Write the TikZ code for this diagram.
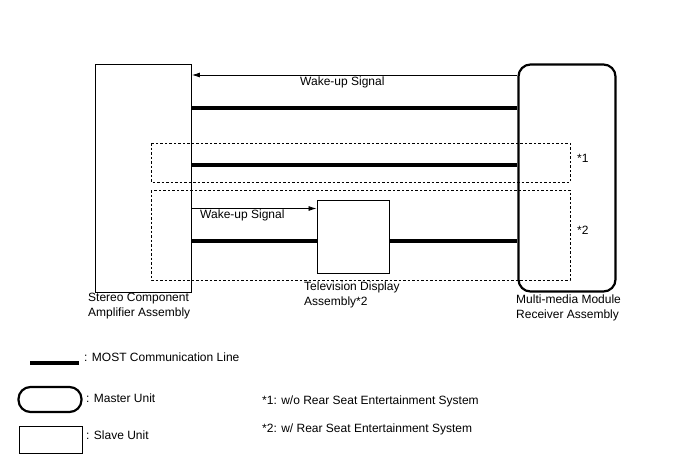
\documentclass[tikz,border=0pt]{standalone}
\usepackage{fontspec}
\setmainfont{Liberation Sans}
\usetikzlibrary{arrows.meta}

\begin{document}
\begin{tikzpicture}[x=1pt,y=-1pt]
\tikzstyle{every node}+=[font=\fontsize{12}{15}\selectfont]
\tikzstyle{slave}=[draw,line width=0.9pt,inner sep=0pt]
\tikzstyle{master}=[draw,line width=2.2pt,rounded corners=12pt,inner sep=0pt]
\tikzstyle{most}=[line width=3.6pt]
\tikzstyle{wake}=[line width=0.8pt,-{Latex[length=8pt,width=5pt]}]
\tikzstyle{grp}=[draw,dashed,line width=0.9pt,dash pattern=on 2.5pt off 2pt]
\tikzstyle{txt}=[anchor=base west,inner sep=0pt]
\tikzstyle{unitname}=[anchor=north west,inner sep=0pt,align=left]
\useasboundingbox (0,0) rectangle (688,463);
% units
\node [slave,minimum width=96pt,minimum height=228pt] (stereo) at (143.5,178) {};
\node [master,minimum width=97pt,minimum height=227pt] (mmr) at (567,178) {};
\node [slave,minimum width=72pt,minimum height=73pt] (tv) at (353,236.5) {};
% optional groups
\draw [grp] (151,143) rectangle (570,182);
\draw [grp] (151,190) rectangle (570,280);
\node [txt] (grp1) at (577,162) {*1};
\node [txt] (grp2) at (577,234) {*2};
% signals
\draw [wake] (mmr.west |- 0,75) -- (stereo.east |- 0,75);
\node [txt] (wake1) at (300,85) {Wake-up Signal};
\draw [most] (stereo.east |- 0,108) -- (mmr.west |- 0,108);
\draw [most] (stereo.east |- 0,165) -- (mmr.west |- 0,165);
\draw [wake] (stereo.east |- 0,208.5) -- (tv.west |- 0,208.5);
\node [txt] (wake2) at (200,218) {Wake-up Signal};
\draw [most] (stereo.east |- 0,241) -- (tv.west |- 0,241);
\draw [most] (tv.east |- 0,241) -- (mmr.west |- 0,241);
% names
\node [unitname] (stereoname) at (88,293) {Stereo Component\\Amplifier Assembly};
\node [unitname] (tvname) at (304,282) {Television Display\\Assembly*2};
\node [unitname] (mmrname) at (516,295) {Multi-media Module\\Receiver Assembly};
% legend
\coordinate (mostA) at (30,363);
\coordinate (mostB) at (79,363);
\draw [most] (mostA) -- (mostB);
\node [txt] (mostname) at (84,361) {: MOST Communication Line};
\node [master,minimum width=63pt,minimum height=25pt] (mkey) at (50,399.5) {};
\node [txt] (mkeyname) at (86,402) {: Master Unit};
\node [slave,minimum width=63pt,minimum height=27pt] (skey) at (50.5,439.5) {};
\node [txt] (skeyname) at (86,439) {: Slave Unit};
\node [txt] (note1) at (262,404) {*1: w/o Rear Seat Entertainment System};
\node [txt] (note2) at (262,432) {*2: w/ Rear Seat Entertainment System};
\end{tikzpicture}
\end{document}
